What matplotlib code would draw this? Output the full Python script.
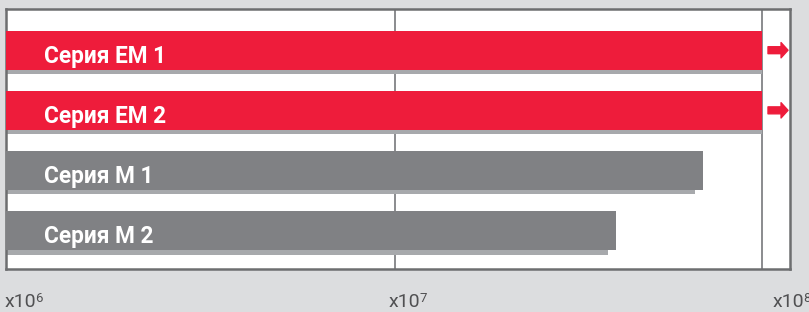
import numpy as np
import matplotlib
matplotlib.use('Agg')
import matplotlib.pyplot as plt

# DATA
series = ['Серия EM 1', 'Серия EM 2', 'Серия M 1', 'Серия M 2']
values = [1.5e8, 1.5e8, 6.2e7, 3.7e7]
colors = ['#ee1c3b', '#ee1c3b', '#808184', '#808184']
tick_base = 'x10'
tick_exps = ['6', '7', '8']
cap = 10 ** 7.9434  # CUT-OFF LINE, LONGER BARS GET AN ARROW

W, H = 809, 312
fig = plt.figure(figsize=(W / 100, H / 100), dpi=100, facecolor='#dcdddf')
ax = fig.add_axes([6 / W, (H - 269) / H, 784 / W, 260 / H])
ax.set_facecolor('white')
ax.set_xscale('log')
ax.set_xlim(1e6, 10 ** 8.0154)
ax.set_ylim(3.638, -0.685)

px_dec = 389.0   # PIXELS PER DECADE
px_row = 60.14   # PIXELS PER ROW
shift = 10 ** (-8 / px_dec)
y = np.arange(len(series))

# GRID LINES
ax.axvline(1e7, color='#77787b', lw=1.2, zorder=1)
ax.axvline(cap, color='#77787b', lw=1.2, zorder=1)

# SHADOWS + BARS
for i in range(len(series)):
    w = min(values[i], cap)
    ws = min(values[i] * shift, cap)
    ax.barh(y[i] + 4.5 / px_row, ws - 1e5, left=1e5, height=39 / px_row,
            color='#a7a9ac', zorder=2)
    ax.barh(y[i], w - 1e5, left=1e5, height=39 / px_row, color=colors[i], zorder=3)
    ax.text(38 / 784, y[i] + 12.8 / px_row, series[i], transform=ax.get_yaxis_transform(),
            color='white', fontsize=16.3, fontweight='bold', family='Roboto',
            va='baseline', ha='left', zorder=4)
    if values[i] > cap:
        ax.annotate('', xy=(782 / 784, y[i]), xytext=(762 / 784, y[i]),
                    xycoords=ax.get_yaxis_transform(), textcoords=ax.get_yaxis_transform(),
                    arrowprops=dict(width=5, headwidth=11, headlength=5,
                                    color='#ee1c3b', shrink=0),
                    zorder=4)

for s in ax.spines.values():
    s.set_color('#6d6e70')
    s.set_linewidth(1.8)

ax.set_xticks([])
ax.set_xticks([], minor=True)
ax.set_yticks([])

# TICK LABELS x10^n
for k, e in enumerate(tick_exps):
    t = fig.text((5 + 384 * k) / W, (H - 307) / H, tick_base, fontsize=14,
                 family='Roboto', color='#505052', ha='left', va='baseline')
    ax.annotate(e, xy=(1, (H - 292) / H), xycoords=(t, 'figure fraction'),
                xytext=(-1.5, 0), textcoords='offset pixels',
                fontsize=9.5, family='Roboto', color='#505052',
                ha='left', va='top', annotation_clip=False)

fig.savefig('out.png', dpi=100, facecolor=fig.get_facecolor())
